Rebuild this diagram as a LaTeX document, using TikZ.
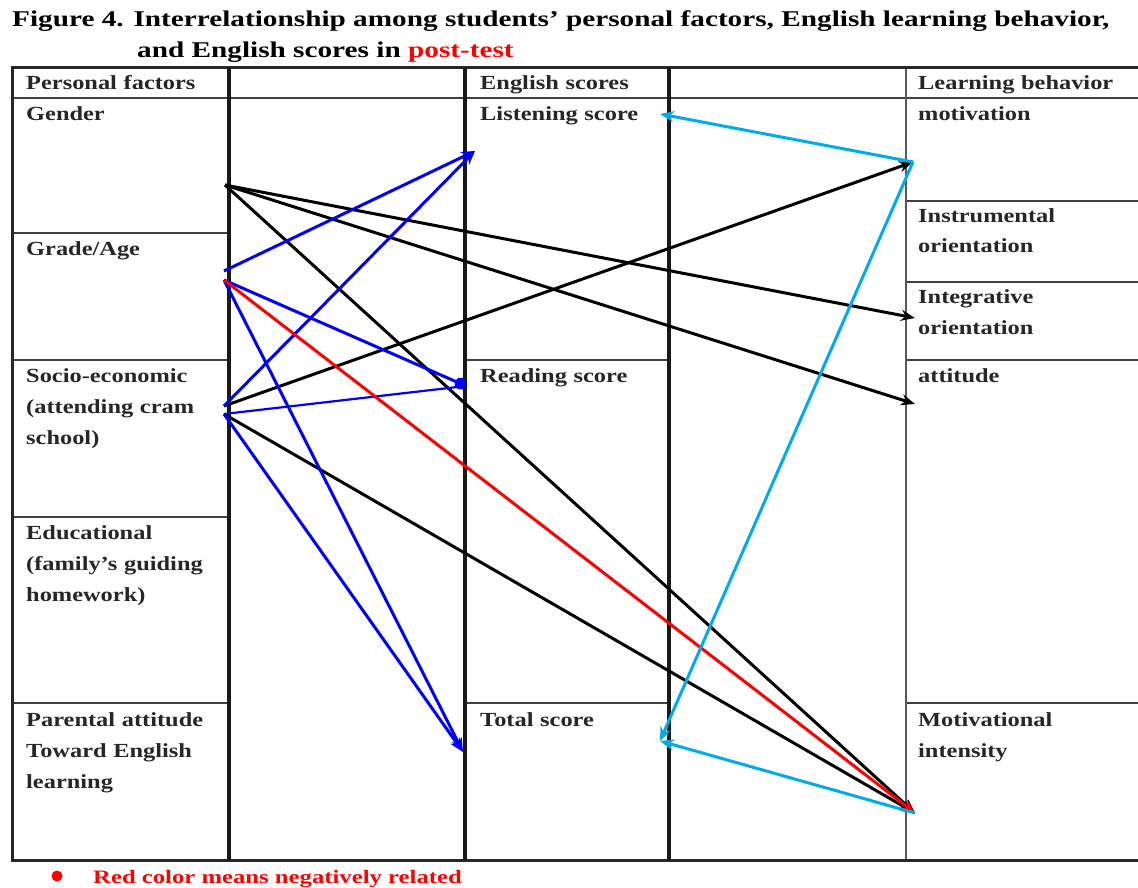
\documentclass[tikz,border=0pt]{standalone}
\usepackage{fontspec}
\setmainfont[FakeStretch=1.22]{Liberation Serif}
\newfontfamily\widefont[FakeStretch=1.3]{Liberation Serif}
\usetikzlibrary{arrows.meta}

\definecolor{skyblue}{RGB}{0,170,235}
\tikzset{
  cell/.style={anchor=base west, inner sep=0pt, text width=215pt, align=left,
    font=\bfseries\fontsize{20}{31}\selectfont, text=black!85},
  grid/.style={line width=2.5pt, draw=black!75},
  bar/.style={line width=4pt, draw=black!90},
  link/.style={line width=3pt, -{Stealth[length=14pt,width=11pt]}},
}

\begin{document}
\begin{tikzpicture}[x=1pt,y=-1pt]
  \useasboundingbox (0,0) rectangle (1138,888);

  % title
  \node[anchor=base west, inner sep=0pt, font=\widefont\bfseries\fontsize{22.5}{25}\selectfont] (title) at (12,27)
    {Figure 4. Interrelationship among students’ personal factors, English learning behavior,};
  \node[anchor=base west, inner sep=0pt, font=\widefont\bfseries\fontsize{22.5}{25}\selectfont] (title2) at (137,58)
    {and English scores in \textcolor{red}{post-test}};

  % table
  \draw[grid] (12,98) -- (1138,98);
  \draw[grid] (12,233) -- (229,233) (12,360) -- (229,360) (12,517) -- (229,517) (12,703) -- (229,703);
  \draw[grid] (465,360) -- (669,360) (465,703) -- (669,703);
  \draw[grid] (906,201) -- (1138,201) (906,282) -- (1138,282) (906,360) -- (1138,360) (906,703) -- (1138,703);
  \draw[grid, draw=black!65] (906,68) -- (906,860);
  \draw[line width=3pt, draw=black!85] (1138,68) -- (12,68) -- (12,860) -- (1138,860);
  \draw[bar] (229,68) -- (229,860) (465,68) -- (465,860) (669,68) -- (669,860);

  \node[cell] (pf) at (26,90) {Personal factors};
  \node[cell] (gender) at (26,121) {Gender};
  \node[cell] (grade) at (26,255) {Grade/Age};
  \node[cell] (socio) at (26,382) {Socio-economic\\(attending cram\\school)};
  \node[cell] (educ) at (26,539) {Educational\\(family’s guiding\\homework)};
  \node[cell] (parent) at (26,726) {Parental attitude\\Toward English\\learning};

  \node[cell] (es) at (480,90) {English scores};
  \node[cell] (listen) at (480,121) {Listening score};
  \node[cell] (reading) at (480,382) {Reading score};
  \node[cell] (total) at (480,726) {Total score};

  \node[cell] (lb) at (918,90) {Learning behavior};
  \node[cell] (motiv) at (918,121) {motivation};
  \node[cell] (instr) at (918,222) {Instrumental\\orientation};
  \node[cell] (integ) at (918,303) {Integrative\\orientation};
  \node[cell] (attit) at (918,382) {attitude};
  \node[cell] (intens) at (918,726) {Motivational\\intensity};

  % arrow ends
  \coordinate (g) at (225,185);
  \coordinate (a1) at (224,271);
  \coordinate (a2) at (224,280);
  \coordinate (s1) at (224,406);
  \coordinate (s2) at (224,414);
  \coordinate (l) at (475,151);
  \coordinate (r) at (466,386);
  \coordinate (t) at (463,752);
  \coordinate (lc) at (660,114);
  \coordinate (tc) at (660,741);
  \coordinate (m) at (913,162);
  \coordinate (i) at (915,318);
  \coordinate (at) at (915,404);
  \coordinate (n) at (915,813);

  \draw[link] (g) -- (i);
  \draw[link] (g) -- (at);
  \draw[link] (g) -- (n);
  \draw[link] (s1) -- (m);
  \draw[link] (s2) -- (n);

  \draw[link, blue] (a1) -- (l);
  \draw[link, blue] (s1) -- (l);
  \draw[link, blue] (a2) -- (t);
  \draw[link, blue] (s2) -- (t);
  \draw[blue, line width=3pt, -{Circle[length=12pt]}] (a2) -- (r);
  \draw[blue, line width=2.2pt] (s2) -- (r);

  \draw[link, red] (a2) -- (n);

  \draw[link, skyblue] (m) -- (lc);
  \draw[link, skyblue] (m) -- (tc);
  \draw[link, skyblue] (n) -- (tc);

  % legend
  \fill[red] (57,876) circle (5.5) coordinate (dot);
  \node[anchor=base west, inner sep=0pt, text=red, font=\widefont\bfseries\fontsize{19}{20}\selectfont] (legend) at (93,883)
    {Red color means negatively related};
\end{tikzpicture}
\end{document}
